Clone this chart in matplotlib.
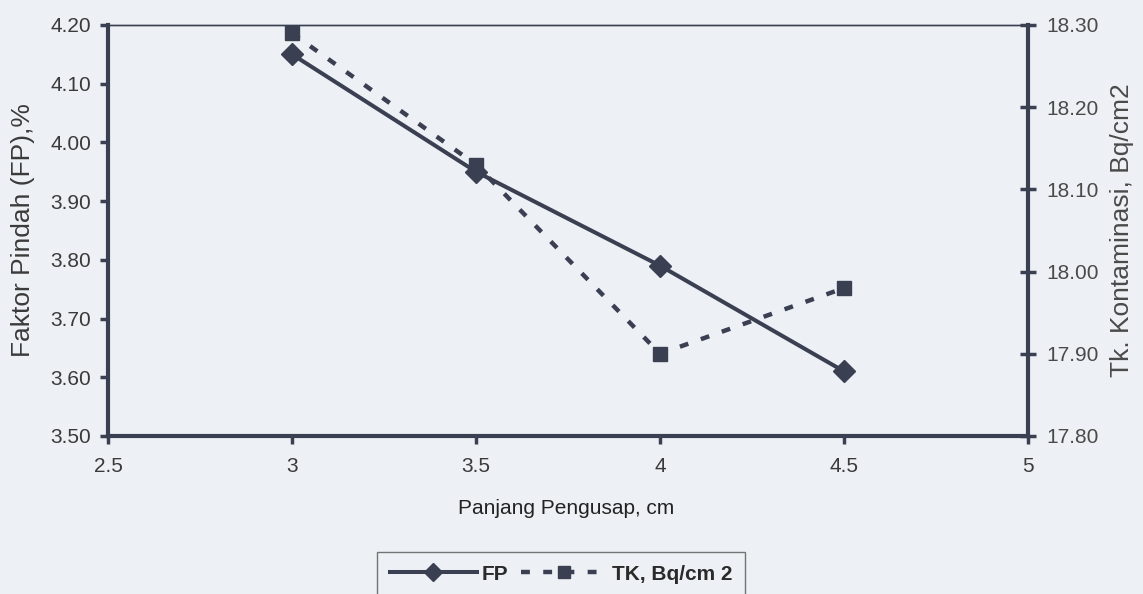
import matplotlib
matplotlib.use("Agg")
import matplotlib.pyplot as plt
from matplotlib.lines import Line2D

plt.rcParams['font.family'] = ['Liberation Sans', 'DejaVu Sans']

x_len = [3.0, 3.5, 4.0, 4.5]
fp_values = [4.15, 3.95, 3.79, 3.61]
tk_values = [18.29, 18.13, 17.90, 17.98]

x_ticks = [2.5, 3, 3.5, 4, 4.5, 5]
x_ticklabels = ["2.5", "3", "3.5", "4", "4.5", "5"]
fp_ticks = [3.50, 3.60, 3.70, 3.80, 3.90, 4.00, 4.10, 4.20]
tk_ticks = [17.80, 17.90, 18.00, 18.10, 18.20, 18.30]

line_col = "#3b3f52"
text_col = "#3a3a3a"
bg = "#edf1f5"

fig = plt.figure(figsize=(11.43, 5.94), dpi=100, facecolor=bg)
ax = fig.add_axes([0.0945, 0.266, 0.805, 0.692])
ax.set_facecolor(bg)
ax2 = ax.twinx()

ax.plot(x_len, fp_values, color=line_col, lw=2.9, marker='D', ms=11,
        mfc=line_col, mec=line_col, label="FP", zorder=3)
ax2.plot(x_len, tk_values, color=line_col, lw=3.2, ls=(0, (2.0, 3.0)), marker='s', ms=9.5,
         mfc=line_col, mec=line_col, label="TK, Bq/cm 2", zorder=3)

ax.set_xlim(2.5, 5)
ax.set_ylim(3.50, 4.20)
ax2.set_ylim(17.80, 18.30)
ax.set_xticks(x_ticks)
ax.set_xticklabels(x_ticklabels)
ax.set_yticks(fp_ticks)
ax.set_yticklabels([f"{v:.2f}" for v in fp_ticks])
ax2.set_yticks(tk_ticks)
ax2.set_yticklabels([f"{v:.2f}" for v in tk_ticks])

for a in (ax, ax2):
    for s in a.spines.values():
        s.set_color(line_col)
    a.spines['top'].set_linewidth(1.0)
ax.spines['left'].set_linewidth(3)
ax.spines['bottom'].set_linewidth(3)
ax2.spines['right'].set_linewidth(3)
ax2.spines['left'].set_visible(False)
ax2.spines['bottom'].set_visible(False)

ax.tick_params(axis='y', direction='out', length=6, width=2.5, color=line_col,
               labelsize=15, labelcolor=text_col, pad=6)
ax.tick_params(axis='x', direction='out', length=6, width=2.5, color=line_col,
               labelsize=15, labelcolor=text_col, pad=9)
ax2.tick_params(axis='y', direction='inout', length=12, width=2.5, color=line_col,
                labelsize=15, labelcolor="#4a4a4a", pad=7)

ax.set_ylabel("Faktor Pindah (FP),%", fontsize=19, color=text_col)
ax.yaxis.set_label_coords(-0.079, 0.5)
ax2.set_ylabel("Tk. Kontaminasi, Bq/cm2", fontsize=19, color="#4a4a4a")
ax2.yaxis.set_label_coords(1.089, 0.5)
ax.set_xlabel("Panjang Pengusap, cm", fontsize=15, color="#222222")
ax.xaxis.set_label_coords(0.498, -0.153)

h1 = Line2D([], [], color=line_col, lw=2.9, marker='D', ms=9, mfc=line_col, mec=line_col)
h2 = Line2D([], [], color=line_col, lw=3.2, ls=(0, (2.0, 3.0)), marker='s', ms=8,
            mfc=line_col, mec=line_col)
leg = fig.legend([h1, h2], ["FP", "TK, Bq/cm 2"], loc='upper center',
                 bbox_to_anchor=(0.491, 0.0707), ncol=2, frameon=True, fancybox=False,
                 edgecolor="#555555", facecolor=bg, handlelength=4.2, columnspacing=0.6,
                 handletextpad=0.2, borderpad=0.6, borderaxespad=0,
                 prop={'size': 15, 'weight': 'bold'})
for t in leg.get_texts():
    t.set_color("#2a2a2a")
leg.get_frame().set_linewidth(1.0)

fig.savefig("out.png", dpi=100, facecolor=bg)
